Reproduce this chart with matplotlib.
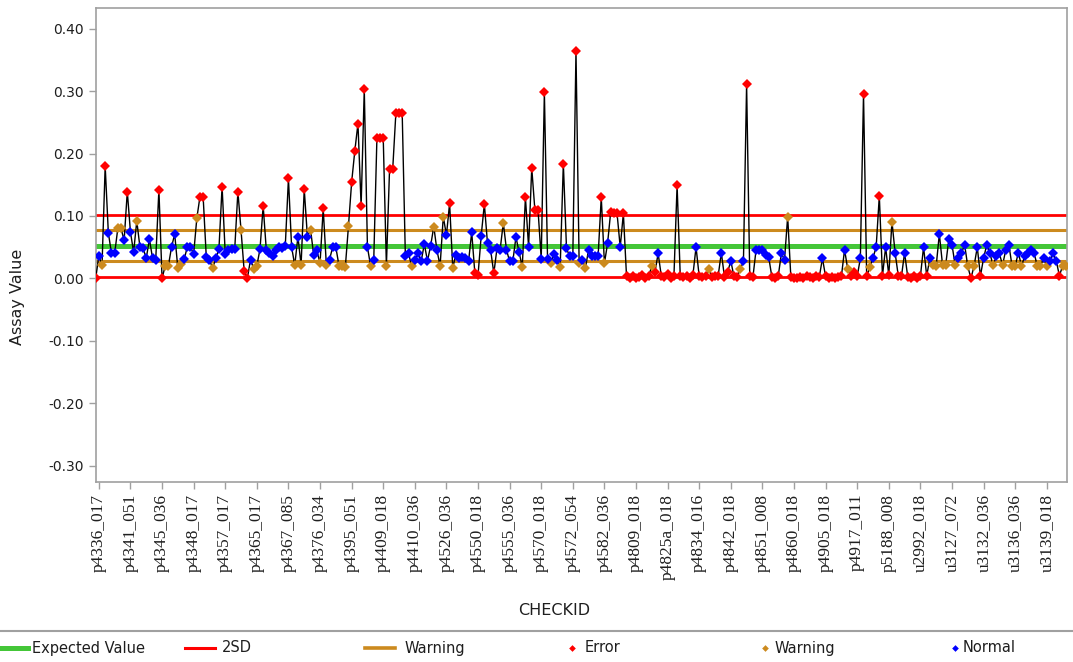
import numpy as np
import matplotlib
matplotlib.use('Agg')
import matplotlib.pyplot as plt
from matplotlib.lines import Line2D

# ---------------- data ----------------
seg_a = [0.000, 0.036, 0.021, 0.180, 0.073, 0.040, 0.040, 0.080, 0.080, 0.061,
         0.139, 0.074, 0.042, 0.092, 0.050, 0.048, 0.032, 0.063, 0.032, 0.030,
         0.142, 0.000, 0.020, 0.020, 0.050, 0.071, 0.016, 0.023, 0.031, 0.050,
         0.050, 0.039, 0.096, 0.131, 0.131, 0.034, 0.030, 0.016, 0.032, 0.047,
         0.147, 0.039, 0.045, 0.047, 0.047, 0.139, 0.077, 0.011, 0.000, 0.030,
         0.015, 0.020, 0.047, 0.116, 0.045, 0.040, 0.035, 0.045, 0.050, 0.048,
         0.052, 0.160]
seg_b = [0.050, 0.021, 0.067, 0.021, 0.143, 0.067, 0.078, 0.037, 0.045, 0.024,
         0.112, 0.021, 0.030, 0.050, 0.050, 0.020, 0.019, 0.018, 0.084, 0.154,
         0.204, 0.248, 0.116, 0.303, 0.050, 0.020, 0.030, 0.225, 0.225, 0.225,
         0.020, 0.175, 0.175, 0.265, 0.265, 0.265, 0.036, 0.040, 0.020, 0.030,
         0.040, 0.027, 0.055, 0.028, 0.052, 0.083, 0.045, 0.020, 0.099, 0.069,
         0.120, 0.017, 0.038, 0.033, 0.034, 0.032, 0.027, 0.074, 0.008, 0.005]
seg_c = [0.068, 0.119, 0.056, 0.045, 0.008, 0.048, 0.046, 0.089, 0.046, 0.027,
         0.027, 0.066, 0.042, 0.018, 0.130, 0.050, 0.177, 0.109, 0.109, 0.031,
         0.298, 0.031, 0.024, 0.039, 0.030, 0.018, 0.184, 0.048, 0.035, 0.035,
         0.364, 0.024, 0.030, 0.017, 0.046, 0.035, 0.035, 0.035, 0.130, 0.024,
         0.056, 0.107, 0.104, 0.104, 0.050, 0.104, 0.003, 0.001, 0.004, 0.000,
         0.002, 0.006, 0.001, 0.003, 0.020, 0.010, 0.040, 0.004, 0.002, 0.007,
         0.001, 0.003, 0.149]
seg_d = [0.004, 0.002, 0.003, 0.001, 0.005, 0.050, 0.003, 0.002, 0.004, 0.015,
         0.002, 0.003, 0.004, 0.041, 0.002, 0.010, 0.028, 0.003, 0.002, 0.015,
         0.027, 0.311, 0.003, 0.002, 0.046, 0.045, 0.046, 0.038, 0.034, 0.002,
         0.001, 0.003, 0.040, 0.030, 0.099, 0.002, 0.001, 0.000, 0.002, 0.001,
         0.003, 0.002, 0.001, 0.003, 0.002, 0.032, 0.003, 0.001, 0.002, 0.000,
         0.002, 0.003, 0.046, 0.015, 0.004, 0.010, 0.003, 0.032, 0.295, 0.003,
         0.018, 0.033]
seg_e = [0.050, 0.132, 0.004, 0.050, 0.005, 0.091, 0.041, 0.004, 0.003, 0.041,
         0.002, 0.000, 0.004, 0.001, 0.003, 0.050, 0.004, 0.032, 0.021, 0.020,
         0.071, 0.022, 0.021, 0.063, 0.054, 0.021, 0.032, 0.040, 0.054, 0.019,
         0.000, 0.020, 0.050, 0.004, 0.032, 0.054, 0.040, 0.021, 0.035, 0.040,
         0.021, 0.045, 0.054, 0.020, 0.020, 0.041, 0.020, 0.035, 0.040, 0.045,
         0.040, 0.020, 0.020, 0.032, 0.020, 0.028, 0.040, 0.028, 0.004, 0.020,
         0.020]
assay_values = np.array(seg_a + seg_b + seg_c + seg_d + seg_e)

# one label shown for every tenth check id
tick_labels = ['p4336_017', 'p4341_051', 'p4345_036', 'p4348_017', 'p4357_017',
               'p4365_017', 'p4367_085', 'p4376_034', 'p4395_051', 'p4409_018',
               'p4410_036', 'p4526_036', 'p4550_018', 'p4555_036', 'p4570_018',
               'p4572_054', 'p4582_036', 'p4809_018', 'p4825a_018', 'p4834_016',
               'p4842_018', 'p4851_008', 'p4860_018', 'p4905_018', 'p4917_011',
               'p5188_008', 'u2992_018', 'u3127_072', 'u3132_036', 'u3136_036',
               'u3139_018']

expected_value = 0.051
sd2_limits = [0.002, 0.102]
warning_limits = [0.027, 0.077]

# ---------------- styling ----------------
GREEN = '#44C638'
RED = '#FF0000'
GOLD = '#CC8A1E'
BLUE = '#0000FF'
FRAME = '#A0A0A0'
TEXT = '#1E1E1E'

# point status from limits (near-zero points count as errors in the source)
is_error = (assay_values > 0.1015) | (assay_values < 0.012)
is_warn = ~is_error & ((assay_values > 0.076) | (assay_values < 0.026))
is_normal = ~is_error & ~is_warn

x = np.arange(len(assay_values))

fig = plt.figure(figsize=(10.73, 6.62), dpi=100)
ax = fig.add_axes([95.7 / 1073, 1 - 482 / 662, (1067 - 95.7) / 1073, 474 / 662])

for v in sd2_limits:
    ax.axhline(v, color=RED, linewidth=2.0, zorder=2)
for v in warning_limits:
    ax.axhline(v, color=GOLD, linewidth=2.2, zorder=2)
ax.axhline(expected_value, color=GREEN, linewidth=3.6, zorder=2)

ax.plot(x, assay_values, color='black', linewidth=1.0, zorder=3)
ms = 5.4
ax.plot(x[is_error], assay_values[is_error], 'D', color=RED, ms=ms, mew=0, zorder=4)
ax.plot(x[is_warn], assay_values[is_warn], 'D', color=GOLD, ms=ms, mew=0, zorder=4)
ax.plot(x[is_normal], assay_values[is_normal], 'D', color=BLUE, ms=ms, mew=0, zorder=4)

ax.set_xlim(0, 307.4)
ax.set_ylim(-0.3264, 0.4332)
ax.set_yticks(np.arange(-0.3, 0.41, 0.1))
ax.set_yticklabels([f'{t:.2f}' for t in np.arange(-0.3, 0.41, 0.1)],
                   fontsize=10, color=TEXT)
ax.set_xticks(np.arange(len(tick_labels)) * 10 + 1)
ax.set_xticklabels(tick_labels, rotation=90, family='Liberation Serif',
                   fontsize=12.5, color=TEXT)
ax.tick_params(axis='both', direction='out', length=5, width=1, color=FRAME)
for sp in ax.spines.values():
    sp.set_color(FRAME)
    sp.set_linewidth(1.2)

ax.set_ylabel('Assay Value', fontsize=11.5, color=TEXT)
ax.yaxis.set_label_coords(-0.073, 0.39)
ax.set_xlabel('CHECKID', fontsize=11.5, color=TEXT)
ax.xaxis.set_label_coords(0.472, -0.255)

# ---------------- legend strip ----------------
fig.add_artist(Line2D([0, 1], [1 - 630.5 / 662] * 2, transform=fig.transFigure,
                      color=FRAME, linewidth=1.5))
ly = 1 - 648 / 662
line_entries = [(0, 28, 32, 'Expected Value', GREEN, 3.6),
                (185, 215, 222, '2SD', RED, 2.2),
                (365, 395, 405, 'Warning', GOLD, 2.6)]
for x0, x1, xt, label, col, lw in line_entries:
    fig.add_artist(Line2D([x0 / 1073, x1 / 1073], [ly, ly], transform=fig.transFigure,
                          color=col, linewidth=lw))
    fig.text(xt / 1073, ly, label, fontsize=10.5, color=TEXT, va='center', ha='left')
marker_entries = [(572, 585, 'Error', RED),
                  (765, 775, 'Warning', GOLD),
                  (955, 963, 'Normal', BLUE)]
for xm, xt, label, col in marker_entries:
    fig.add_artist(Line2D([xm / 1073], [ly], transform=fig.transFigure, marker='D',
                          color=col, ms=3.4, mew=0, linestyle='none'))
    fig.text(xt / 1073, ly, label, fontsize=10.5, color=TEXT, va='center', ha='left')

fig.savefig('out.png', dpi=100)
